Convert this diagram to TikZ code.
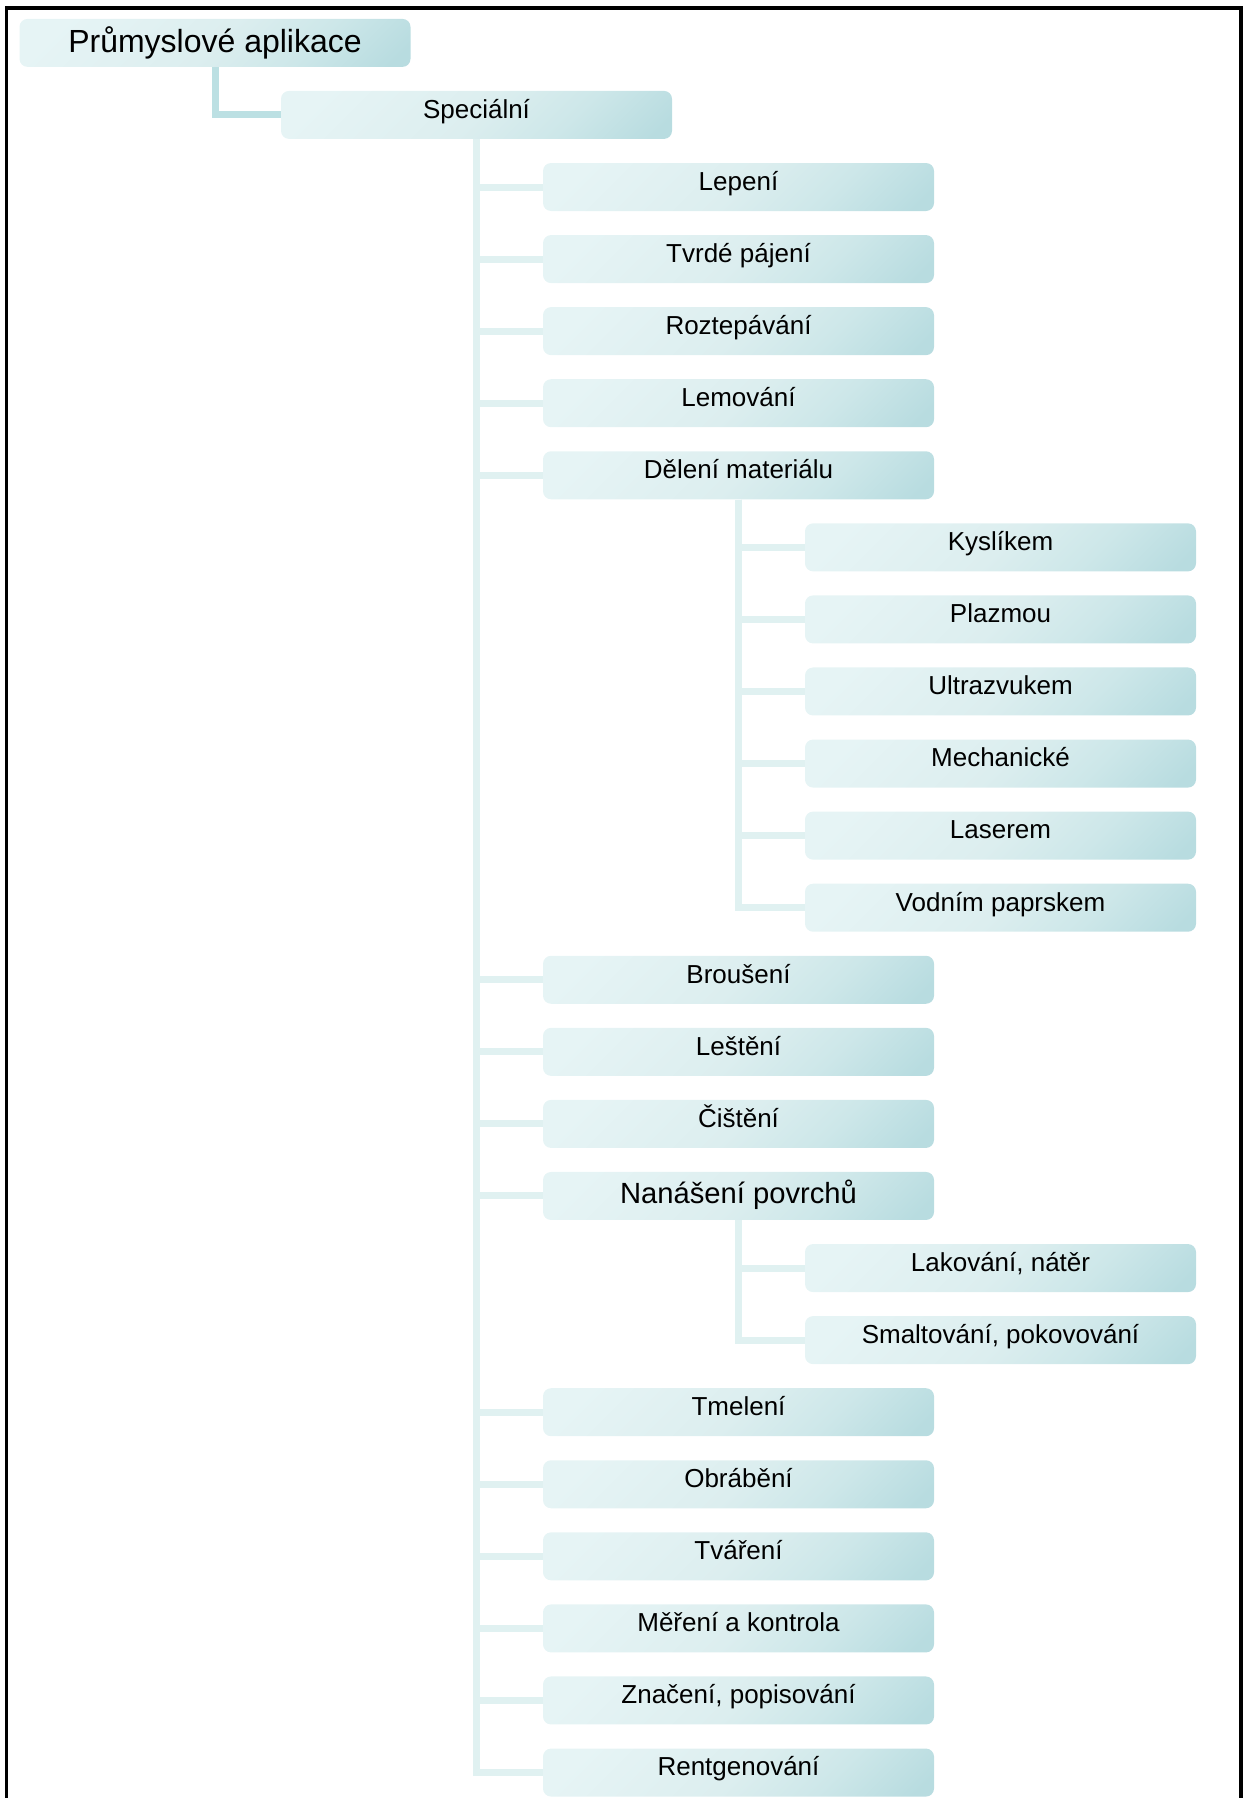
\documentclass[tikz,border=0pt]{standalone}
\usepackage{fontspec}
\setmainfont{Liberation Sans}
\definecolor{boxlight}{HTML}{E6F4F5}
\definecolor{boxmid}{HTML}{DCEEEF}
\definecolor{boxmid2}{HTML}{CDE7E9}
\definecolor{boxdark}{HTML}{B8DCE0}
\definecolor{connpale}{HTML}{E0F1F1}
\definecolor{conndark}{HTML}{BCE0E3}
\pgfdeclareverticalshading{boxshade}{100bp}{color(0bp)=(boxdark); color(18bp)=(boxdark); color(34bp)=(boxmid2); color(50bp)=(boxmid); color(78bp)=(boxlight); color(100bp)=(boxlight)}
\tikzset{
  box/.style={draw=none, rounded corners=4pt, inner sep=0pt,
    minimum width=195.5pt, minimum height=24pt,
    shade, shading=boxshade, shading angle=45,
    font=\fontsize{13}{15.6}\selectfont, text height=9.3pt, text depth=6pt},
  conn/.style={draw=connpale, line width=3.5pt},
  conndk/.style={draw=conndark, line width=3.5pt}
}
\begin{document}
\begin{tikzpicture}[x=0.5pt, y=-0.5pt]
\useasboundingbox (0,0) rectangle (1247,1798);
% frame
\draw[line width=1.6pt] (6.5,1798) -- (6.5,8) -- (1241,8) -- (1241,1798);
% nodes
\node[box, font=\fontsize{16}{19.2}\selectfont, text height=11.5pt, text depth=2pt] (root) at (215,42.9) {Průmyslové aplikace};
\node[box] (spec) at (476.5,114.9) {Speciální};
\node[box] (lep) at (738.5,187.0) {Lepení};
\node[box] (tvp) at (738.5,259.07) {Tvrdé pájení};
\node[box] (roz) at (738.5,331.14) {Roztepávání};
\node[box] (lem) at (738.5,403.21) {Lemování};
\node[box] (del) at (738.5,475.28) {Dělení materiálu};
\node[box] (kys) at (1000.5,547.35) {Kyslíkem};
\node[box] (pla) at (1000.5,619.42) {Plazmou};
\node[box] (ult) at (1000.5,691.49) {Ultrazvukem};
\node[box] (mec) at (1000.5,763.56) {Mechanické};
\node[box] (las) at (1000.5,835.63) {Laserem};
\node[box] (vod) at (1000.5,907.70) {Vodním paprskem};
\node[box] (bro) at (738.5,979.77) {Broušení};
\node[box] (les) at (738.5,1051.84) {Leštění};
\node[box] (cis) at (738.5,1123.91) {Čištění};
\node[box, font=\fontsize{14.6}{17.5}\selectfont, text height=10.45pt, text depth=3.4pt] (nan) at (738.5,1195.98) {Nanášení povrchů};
\node[box] (lak) at (1000.5,1268.05) {Lakování, nátěr};
\node[box] (sma) at (1000.5,1340.12) {Smaltování, pokovování};
\node[box] (tme) at (738.5,1412.19) {Tmelení};
\node[box] (obr) at (738.5,1484.26) {Obrábění};
\node[box] (tva) at (738.5,1556.33) {Tváření};
\node[box] (mer) at (738.5,1628.40) {Měření a kontrola};
\node[box] (zna) at (738.5,1700.47) {Značení, popisování};
\node[box] (ren) at (738.5,1772.54) {Rentgenování};
% connectors
\draw[conndk] (root.south) |- (spec.west);
\foreach \n in {lep,tvp,roz,lem,del,bro,les,cis,nan,tme,obr,tva,mer,zna,ren}
  \draw[conn] (spec.south) |- (\n.west);
\foreach \n in {kys,pla,ult,mec,las,vod}
  \draw[conn] (del.south) |- (\n.west);
\foreach \n in {lak,sma}
  \draw[conn] (nan.south) |- (\n.west);
\end{tikzpicture}
\end{document}
